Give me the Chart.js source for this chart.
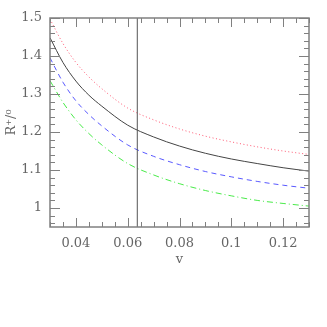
<!DOCTYPE html>
<html>
<head>
<meta charset="utf-8">
<script src="https://cdn.jsdelivr.net/npm/chart.js@4.4.1/dist/chart.umd.min.js"></script>
<style>
  html, body { margin: 0; padding: 0; background: #fff; }
  canvas { display: block; }
</style>
</head>
<body>
<canvas id="chart" width="327" height="327"></canvas>
<script>
const vValues = [0.03, 0.035, 0.04, 0.045, 0.05, 0.06, 0.07, 0.08, 0.09, 0.1, 0.11, 0.12, 0.13];

const redDotted   = [1.497, 1.433, 1.383, 1.345, 1.314, 1.263, 1.232, 1.208, 1.189, 1.174, 1.161, 1.150, 1.141];
const blackSolid  = [1.448, 1.383, 1.334, 1.297, 1.268, 1.218, 1.187, 1.163, 1.144, 1.129, 1.117, 1.106, 1.097];
const blueDashed  = [1.395, 1.331, 1.282, 1.246, 1.216, 1.166, 1.136, 1.114, 1.096, 1.082, 1.070, 1.060, 1.052];
const greenDashDot = [1.335, 1.278, 1.232, 1.196, 1.166, 1.117, 1.087, 1.064, 1.046, 1.032, 1.020, 1.012, 1.005];

// vertical marker
const markerV = 0.0637;

const xTicks = [0.04, 0.06, 0.08, 0.1, 0.12];
const yTicks = [1, 1.1, 1.2, 1.3, 1.4, 1.5];

const toPoints = (ys) => vValues.map((v, i) => ({ x: v, y: ys[i] }));

const fmt = (v) => String(+v.toFixed(3));

// frame with inward major/minor ticks on all four sides
const frameTicks = {
  id: "frameTicks",
  afterDatasetsDraw(chart) {
    const { ctx, chartArea: a, scales } = chart;
    const xs = scales.x, ys = scales.y;
    ctx.save();
    ctx.strokeStyle = "#808080";
    ctx.lineWidth = 1;
    ctx.beginPath();
    for (let v = 0.03; v <= 0.1301; v += 0.005) {
      const px = Math.round(xs.getPixelForValue(v)) + 0.5;
      const major = xTicks.some((t) => Math.abs(t - v) < 1e-6);
      const len = major ? 9 : 5;
      ctx.moveTo(px, a.bottom); ctx.lineTo(px, a.bottom - len);
      ctx.moveTo(px, a.top); ctx.lineTo(px, a.top + len);
    }
    for (let v = 0.96; v <= 1.5001; v += 0.02) {
      const py = Math.round(ys.getPixelForValue(v)) + 0.5;
      const major = yTicks.some((t) => Math.abs(t - v) < 1e-6);
      const len = major ? 10 : 5;
      ctx.moveTo(a.left, py); ctx.lineTo(a.left + len, py);
      ctx.moveTo(a.right, py); ctx.lineTo(a.right - len, py);
    }
    ctx.stroke();
    ctx.lineWidth = 1.5;
    ctx.strokeRect(a.left, a.top, a.right - a.left, a.bottom - a.top);
    ctx.restore();
  },
};

new Chart(document.getElementById("chart"), {
  type: "scatter",
  data: {
    datasets: [
      {
        data: [{ x: markerV, y: 0.95 }, { x: markerV, y: 1.5 }],
        borderColor: "#555",
        borderWidth: 1,
      },
      {
        data: toPoints(redDotted),
        borderColor: "rgba(255, 60, 90, 0.85)",
        borderWidth: 1,
        borderDash: [1, 2.5],
        cubicInterpolationMode: "monotone",
      },
      {
        data: toPoints(blackSolid),
        borderColor: "#444",
        borderWidth: 1,
        cubicInterpolationMode: "monotone",
      },
      {
        data: toPoints(blueDashed),
        borderColor: "rgba(60, 60, 255, 0.85)",
        borderWidth: 1,
        borderDash: [5, 4],
        cubicInterpolationMode: "monotone",
      },
      {
        data: toPoints(greenDashDot),
        borderColor: "rgba(40, 230, 40, 0.85)",
        borderWidth: 1,
        borderDash: [6, 3, 1, 3],
        cubicInterpolationMode: "monotone",
      },
    ],
  },
  options: {
    responsive: false,
    animation: false,
    showLine: true,
    elements: { point: { radius: 0 } },
    layout: { padding: { left: 0, top: 18, right: 18, bottom: 60 } },
    plugins: { legend: { display: false }, tooltip: { enabled: false } },
    scales: {
      x: {
        type: "linear",
        min: 0.03,
        max: 0.13,
        afterBuildTicks: (s) => { s.ticks = xTicks.map((v) => ({ value: v })); },
        afterFit: (s) => { s.height = 40; },
        grid: { display: false, drawTicks: false },
        border: { display: false },
        ticks: {
          padding: 9,
          maxRotation: 0,
          color: "#666",
          font: { family: "DejaVu Serif", size: 13 },
          callback: (v) => fmt(v),
        },
        title: {
          display: true,
          text: "v",
          color: "#666",
          font: { family: "DejaVu Serif", size: 13 },
          padding: { top: 4, bottom: 0 },
        },
      },
      y: {
        type: "linear",
        min: 0.95,
        max: 1.5,
        afterBuildTicks: (s) => { s.ticks = yTicks.map((v) => ({ value: v })); },
        afterFit: (s) => { s.width = 50; },
        grid: { display: false, drawTicks: false },
        border: { display: false },
        ticks: {
          padding: 8,
          color: "#666",
          font: { family: "DejaVu Serif", size: 13 },
          callback: (v) => fmt(v),
        },
        title: {
          display: true,
          text: "R⁺/⁰",
          color: "#666",
          font: { family: "DejaVu Serif", size: 13 },
          padding: { top: 4, bottom: 0 },
        },
      },
    },
  },
  plugins: [frameTicks],
});
</script>
</body>
</html>
